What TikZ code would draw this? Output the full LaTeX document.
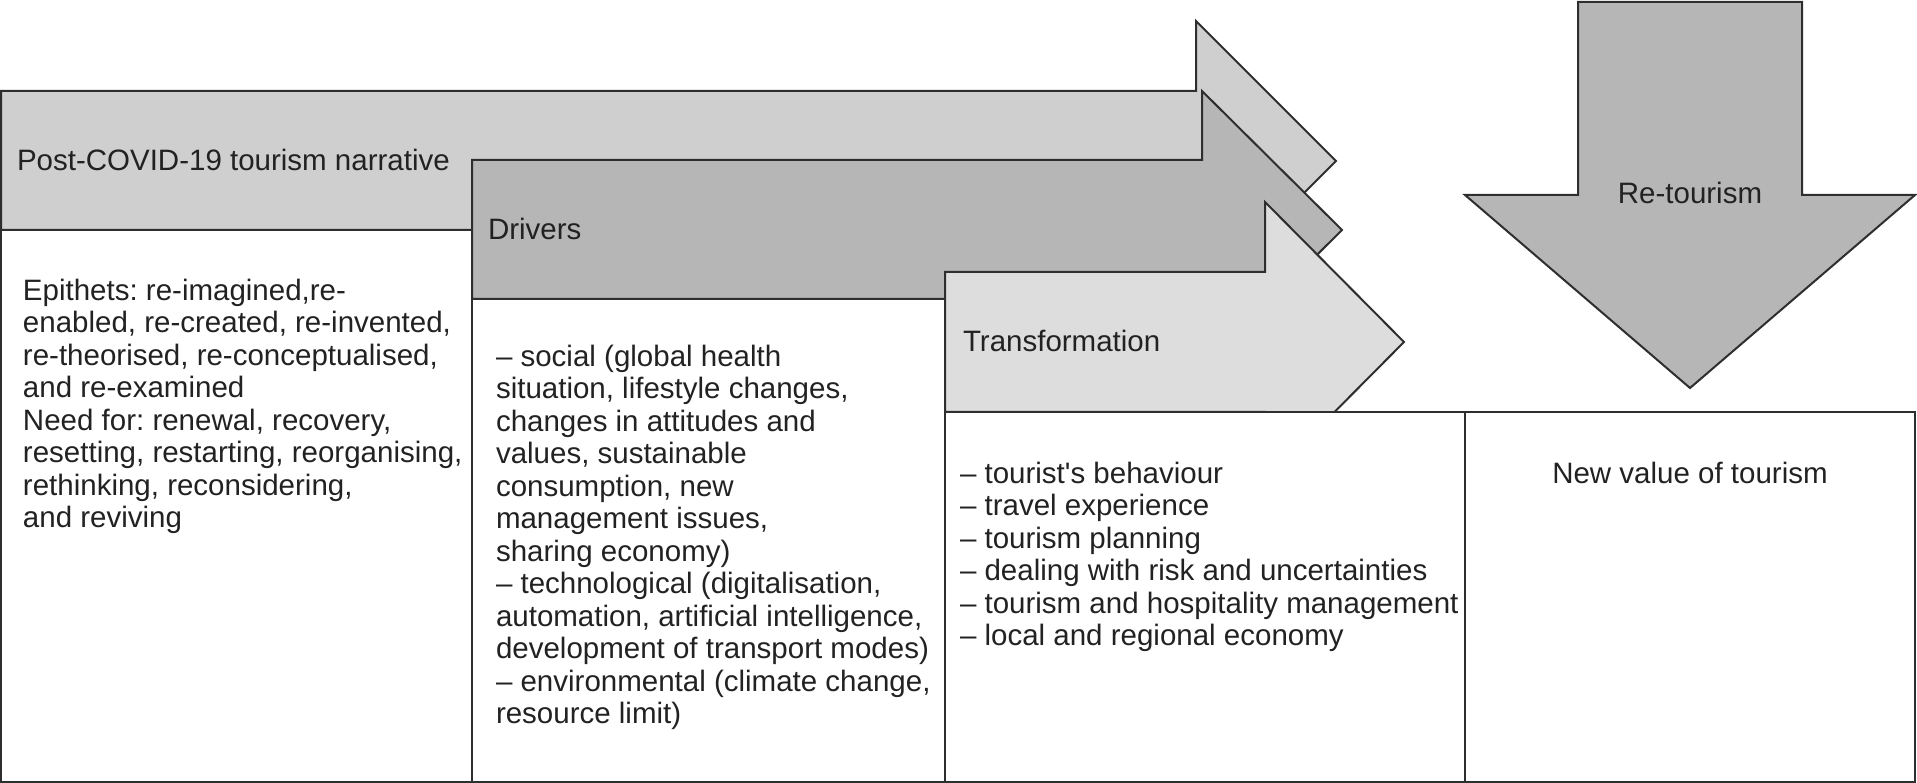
\documentclass[tikz,border=0pt]{standalone}
\usepackage{fontspec}
\setmainfont{Liberation Sans}[Ligatures=TeXOff]
\frenchspacing
\definecolor{ga}{HTML}{D0CFD0}
\definecolor{gb}{HTML}{B6B6B6}
\definecolor{gc}{HTML}{DDDDDD}
\definecolor{ln}{HTML}{2E2E2E}
\definecolor{tx}{HTML}{222222}
\begin{document}
\begin{tikzpicture}[x=1pt,y=-1pt,line width=2pt,line join=miter,
  shp/.style={draw=ln},
  lbl/.style={inner sep=0pt,anchor=base west,text=tx,font=\fontsize{29.5}{32.5}\selectfont\frenchspacing},
  body/.style={lbl,align=left},
  cbox/.style={draw=ln,fill=white}]
\useasboundingbox (0,0) rectangle (1917,783);
% arrows
\filldraw[shp,fill=ga] (1,91) -- (1196,91) -- (1196,21) -- (1336,161) -- (1196,301) -- (1196,230) -- (1,230) -- cycle;
\filldraw[shp,fill=gb] (472,160) -- (1202,160) -- (1202,91) -- (1342,230) -- (1202,369) -- (1202,299) -- (472,299) -- cycle;
\filldraw[shp,fill=gc] (945,272) -- (1265,272) -- (1265,202) -- (1404,342) -- (1265,482) -- (1265,412) -- (945,412) -- cycle;
\filldraw[shp,fill=gb] (1578,2) -- (1802,2) -- (1802,195) -- (1915,195) -- (1690,388) -- (1465,195) -- (1578,195) -- cycle;
% boxes
\filldraw[cbox] (1,230) rectangle (472,782);
\filldraw[cbox] (472,299) rectangle (945,782);
\filldraw[cbox] (945,412) rectangle (1465,782);
\filldraw[cbox] (1465,412) rectangle (1915,782);
% labels
\node[lbl] (t1) at (16,171) {Post-COVID-19 tourism narrative};
\node[lbl] (t2) at (487,240) {Drivers};
\node[lbl] (t3) at (962,352) {Transformation};
\node[lbl,anchor=base] (t4) at (1690,204) {Re-tourism};
% multi-line nodes: base anchor is the last line's baseline
\node[body] (b1) at (22,527.5) {Epithets: re-imagined,re-\\enabled, re-created, re-invented,\\re-theorised, re-conceptualised,\\and re-examined\\Need for: renewal, recovery,\\resetting, restarting, reorganising,\\rethinking, reconsidering,\\and reviving};
\node[body] (b2) at (495,723.5) {– social (global health\\situation, lifestyle changes,\\changes in attitudes and\\values, sustainable\\consumption, new\\management issues,\\sharing economy)\\– technological (digitalisation,\\automation, artificial intelligence,\\development of transport modes)\\– environmental (climate change,\\resource limit)};
\node[body] (b3) at (959,645.5) {– tourist's behaviour\\– travel experience\\– tourism planning\\– dealing with risk and uncertainties\\– tourism and hospitality management\\– local and regional economy};
\node[lbl,anchor=base] (b4) at (1690,483) {New value of tourism};
\end{tikzpicture}
\end{document}
